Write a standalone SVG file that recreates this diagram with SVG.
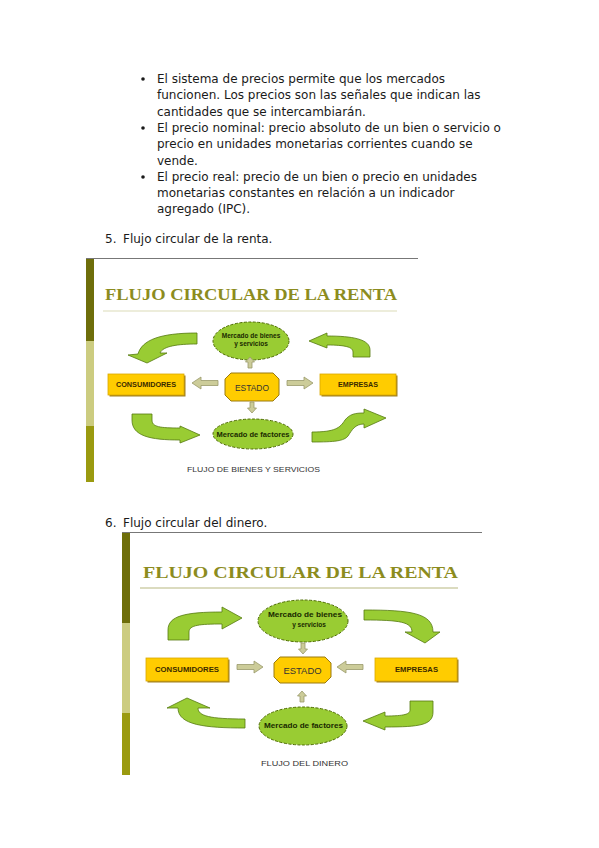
<svg xmlns="http://www.w3.org/2000/svg" width="599" height="848" viewBox="0 0 599 848">
<style>
.body{font-family:"DejaVu Sans",sans-serif;font-size:12px;fill:#1a1a1a}
.title{font-family:"Liberation Serif",serif;font-weight:bold;fill:#8c8c1e}
.ell{fill:#99cc33;stroke:#4d6b00;stroke-width:1;stroke-dasharray:3 1.5}
.etx{font-family:"Liberation Sans",sans-serif;font-weight:bold;font-size:6.5px;fill:#1a2a00;text-anchor:middle}
.box{fill:#ffcc00;stroke:#d9a800;stroke-width:0.8}
.shd{fill:#a08020}
.btx{font-family:"Liberation Sans",sans-serif;font-weight:bold;font-size:7px;fill:#3a2a00;text-anchor:middle}
.oct{fill:#ffcc00;stroke:#9a7a10;stroke-width:1}
.stx{font-family:"Liberation Sans",sans-serif;font-size:9px;fill:#333;text-anchor:middle}
.big{fill:#99cc33;stroke:#557a10;stroke-width:0.8}
.sm{fill:#cccc99;stroke:#99996a;stroke-width:0.8}
.foot{font-family:"Liberation Sans",sans-serif;font-size:8px;fill:#333;text-anchor:middle}
</style>
<defs>
<path id="sa" d="M0,-2.5 H17 V-6 L26,0 L17,6 V2.5 H0 Z"/>
<path id="sv" d="M-2,0 V-6 H-4.5 L0,-11 L4.5,-6 H2 V0 Z"/>
</defs>
<rect width="599" height="848" fill="#ffffff"/>

<g id="bullets">
<circle cx="143" cy="79" r="1.8" fill="#1a1a1a"/>
<circle cx="143" cy="128" r="1.8" fill="#1a1a1a"/>
<circle cx="143" cy="177" r="1.8" fill="#1a1a1a"/>
<text class="body" x="157" y="83">El sistema de precios permite que los mercados</text>
<text class="body" x="157" y="99.3">funcionen. Los precios son las señales que indican las</text>
<text class="body" x="157" y="115.6">cantidades que se intercambiarán.</text>
<text class="body" x="157" y="131.9">El precio nominal: precio absoluto de un bien o servicio o</text>
<text class="body" x="157" y="148.2">precio en unidades monetarias corrientes cuando se</text>
<text class="body" x="157" y="164.5">vende.</text>
<text class="body" x="157" y="180.8">El precio real: precio de un bien o precio en unidades</text>
<text class="body" x="157" y="197.1">monetarias constantes en relación a un indicador</text>
<text class="body" x="157" y="213.4">agregado (IPC).</text>
</g>

<g id="heading5">
<text class="body" x="105" y="243">5.</text>
<text class="body" x="123" y="243">Flujo circular de la renta.</text>
</g>

<!-- Diagram 1 -->
<g id="frame1">
<line x1="86" y1="258.5" x2="418" y2="258.5" stroke="#777" stroke-width="1"/>
<rect x="86" y="259" width="8" height="82" fill="#6e6e0a"/>
<rect x="86" y="341" width="8" height="85" fill="#cccc80"/>
<rect x="86" y="426" width="8" height="56" fill="#9a9a10"/>
<text class="title" x="105" y="300" font-size="16" textLength="292" lengthAdjust="spacingAndGlyphs">FLUJO CIRCULAR DE LA RENTA</text>
<line x1="103" y1="311" x2="397" y2="311" stroke="#dcdcb8" stroke-width="1.2"/>
</g>
<g id="d1-mercado-bienes">
<ellipse class="ell" cx="251" cy="341" rx="38" ry="19"/>
<text class="etx" x="251" y="337.5">Mercado de bienes</text>
<text class="etx" x="251" y="345.5">y servicios</text>
</g>
<g id="d1-consumidores">
<rect class="shd" x="109.5" y="375.5" width="76" height="21"/>
<rect class="box" x="108" y="374" width="76" height="21"/>
<text class="btx" x="146" y="387" textLength="60" lengthAdjust="spacingAndGlyphs">CONSUMIDORES</text>
</g>
<g id="d1-estado">
<polygon class="oct" points="231,373 273,373 279,379 279,395 273,401 231,401 225,395 225,379"/>
<text class="stx" x="252" y="390.5" textLength="34" lengthAdjust="spacingAndGlyphs">ESTADO</text>
</g>
<g id="d1-empresas">
<rect class="shd" x="321.5" y="375.5" width="76" height="21"/>
<rect class="box" x="320" y="374" width="76" height="21"/>
<text class="btx" x="358" y="387" textLength="40" lengthAdjust="spacingAndGlyphs">EMPRESAS</text>
</g>
<g id="d1-mercado-factores">
<ellipse class="ell" cx="253" cy="434" rx="40" ry="15"/>
<text class="etx" x="253" y="437" textLength="73" lengthAdjust="spacingAndGlyphs">Mercado de factores</text>
</g>
<g id="d1-caption">
<text class="foot" x="253.5" y="472" textLength="133" lengthAdjust="spacingAndGlyphs">FLUJO DE BIENES Y SERVICIOS</text>
</g>
<g id="d1-connectors">
<use href="#sv" class="sm" transform="translate(250,368)"/>
<use href="#sa" class="sm" transform="translate(218,383) rotate(180)"/>
<use href="#sa" class="sm" transform="translate(287,383)"/>
<use href="#sv" class="sm" transform="translate(252,402) rotate(180)"/>
<path class="big" d="M197,333 L197,344 C178,344 163,346 160,353 L167,353 L147,363 L128,355 L138,354 C142,340 160,333 197,333 Z"/>
<path class="big" d="M309,341 L327,333 L327,336 C352,336 370,339 370,350 L370,357 L353,357 L353,352 C353,347 345,345 327,345 L327,348 Z"/>
<path class="big" d="M132,414 L152,414 L152,420 C152,427 160,428 180,428 L180,426 L200,435 L180,443 L180,440 C150,440 132,436 132,420 Z"/>
<path class="big" d="M312,432 C335,432 340,428 345,420 C350,414 355,413 364,413 L364,409 L386,418 L364,428 L364,424 C355,424 352,430 348,436 C344,441 335,442 312,442 Z"/>
</g>

<g id="heading6">
<text class="body" x="105" y="527">6.</text>
<text class="body" x="123" y="527">Flujo circular del dinero.</text>
</g>

<!-- Diagram 2 -->
<g id="frame2">
<line x1="122" y1="532.5" x2="482" y2="532.5" stroke="#777" stroke-width="1"/>
<rect x="122" y="533" width="8" height="90" fill="#6e6e0a"/>
<rect x="122" y="623" width="8" height="90" fill="#cccc80"/>
<rect x="122" y="713" width="8" height="62" fill="#9a9a10"/>
<text class="title" x="143" y="578" font-size="17.5" textLength="315" lengthAdjust="spacingAndGlyphs">FLUJO CIRCULAR DE LA RENTA</text>
<line x1="140" y1="588" x2="458" y2="588" stroke="#b8b880" stroke-width="1.2"/>
</g>
<g id="d2-mercado-bienes">
<ellipse class="ell" cx="303" cy="621" rx="45" ry="21"/>
<text class="etx" x="305" y="616.5" font-size="7" textLength="74" lengthAdjust="spacingAndGlyphs">Mercado de bienes</text>
<text class="etx" x="309" y="626.5" font-size="7">y servicios</text>
</g>
<g id="d2-consumidores">
<rect class="shd" x="147.5" y="659.5" width="82" height="23"/>
<rect class="box" x="146" y="658" width="82" height="23"/>
<text class="btx" x="187" y="672" font-size="7.5" textLength="64" lengthAdjust="spacingAndGlyphs">CONSUMIDORES</text>
</g>
<g id="d2-estado">
<polygon class="oct" points="280,657 325,657 331,663 331,677 325,683 280,683 274,677 274,663"/>
<text class="stx" x="302.5" y="674" font-size="10" textLength="38" lengthAdjust="spacingAndGlyphs">ESTADO</text>
</g>
<g id="d2-empresas">
<rect class="shd" x="376.5" y="659.5" width="82" height="23"/>
<rect class="box" x="375" y="658" width="82" height="23"/>
<text class="btx" x="416.5" y="672" font-size="7.5" textLength="43" lengthAdjust="spacingAndGlyphs">EMPRESAS</text>
</g>
<g id="d2-mercado-factores">
<ellipse class="ell" cx="303" cy="726" rx="44" ry="19"/>
<text class="etx" x="303.5" y="728" font-size="7" textLength="79" lengthAdjust="spacingAndGlyphs">Mercado de factores</text>
</g>
<g id="d2-caption">
<text class="foot" x="304.5" y="766" font-size="8.5" textLength="87" lengthAdjust="spacingAndGlyphs">FLUJO DEL DINERO</text>
</g>
<g id="d2-connectors">
<use href="#sv" class="sm" transform="translate(303,643) rotate(180)"/>
<use href="#sa" class="sm" transform="translate(237,667)"/>
<use href="#sa" class="sm" transform="translate(363,667) rotate(180)"/>
<use href="#sv" class="sm" transform="translate(302,702)"/>
<path class="big" d="M168,640 L168,630 C168,616 185,612 222,612 L222,607 L242,618 L222,629 L222,624 C200,624 189,625 189,632 L189,640 Z"/>
<path class="big" d="M364,610 C410,610 433,613 433,632 L440,632 L425,643 L405,632 L412,632 C412,622 400,620 364,620 Z"/>
<path class="big" d="M245,719 L245,728 C205,728 178,725 178,708 L167,708 L187,698 L210,708 L198,708 C198,716 210,719 245,719 Z"/>
<path class="big" d="M410,701 L433,701 L433,712 C433,725 420,727 385,727 L385,730 L363,721 L385,712 L385,716 C405,716 410,714 410,710 Z"/>
</g>
</svg>
